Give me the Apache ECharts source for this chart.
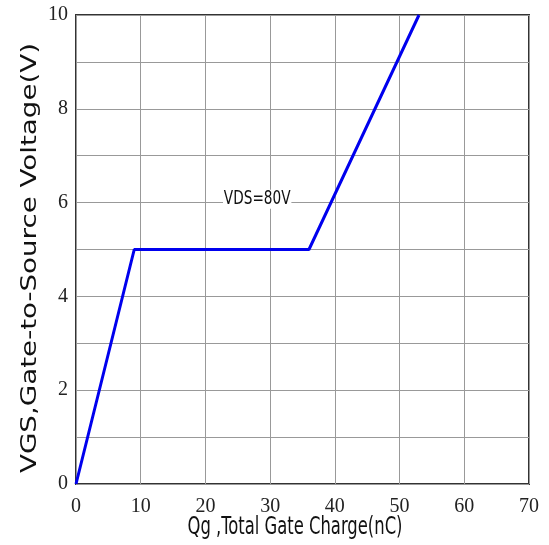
<!DOCTYPE html>
<html>
<head>
<meta charset="utf-8">
<script src="https://cdn.jsdelivr.net/npm/echarts@6/dist/echarts.min.js"></script>
<style>html,body{margin:0;padding:0;background:#fff;}#c{width:549px;height:545px;}</style>
</head>
<body>
<div id="c"></div>
<script>
var qg = [0, 9, 36, 53];
var vgs = [0, 5, 5, 10];
var noteText = 'VDS=80V';
var notePos = [28, 6.07];
var xTitle = 'Qg ,Total Gate Charge(nC)';
var yTitle = 'VGS,Gate-to-Source Voltage(V)';

var chart = echarts.init(document.getElementById('c'));
chart.setOption({
  animation: false,
  grid: { left: 76, right: 20, top: 15, bottom: 61, show: true, borderColor: '#333', borderWidth: 2,
    backgroundColor: '#fff', outerBoundsMode: 'none', containLabel: false },
  xAxis: {
    type: 'value', min: 0, max: 70, interval: 10,
    axisLine: { show: false }, axisTick: { show: false },
    axisLabel: { fontFamily: 'Liberation Serif', fontSize: 20, color: '#222', margin: 13 },
    splitLine: { show: true, lineStyle: { color: '#999', width: 1 } }
  },
  yAxis: {
    type: 'value', min: 0, max: 10, interval: 1,
    axisLine: { show: false }, axisTick: { show: false },
    axisLabel: { fontFamily: 'Liberation Serif', fontSize: 20, color: '#222', margin: 8,
      formatter: function (v) { return v % 2 === 0 ? String(v) : ''; } },
    splitLine: { show: true, lineStyle: { color: '#999', width: 1 } }
  },
  series: [
    {
      type: 'line', data: qg.map(function (x, i) { return [x, vgs[i]]; }),
      symbol: 'none', lineStyle: { color: '#0000ee', width: 3 }, z: 3
    }
  ]
});
var notePx = chart.convertToPixel({ gridIndex: 0 }, notePos);
chart.setOption({
  graphic: [
    { type: 'text', x: 295, y: 528, scaleX: 0.76, z: 10,
      style: { text: xTitle, font: '24px "DejaVu Sans Condensed"', fill: '#111', textAlign: 'center', textVerticalAlign: 'middle' } },
    { type: 'text', x: 30, y: 258, rotation: Math.PI / 2, scaleX: 1.26, z: 10,
      style: { text: yTitle, font: '22px "DejaVu Sans"', fill: '#111', textAlign: 'center', textVerticalAlign: 'middle' } },
    { type: 'text', x: notePx[0], y: notePx[1], scaleX: 0.8, z: 10,
      style: { text: noteText, font: '19px "DejaVu Sans Condensed"', fill: '#111', textAlign: 'center', textVerticalAlign: 'middle',
        backgroundColor: '#fff', padding: [0, 1] } }
  ]
});
</script>
</body>
</html>
